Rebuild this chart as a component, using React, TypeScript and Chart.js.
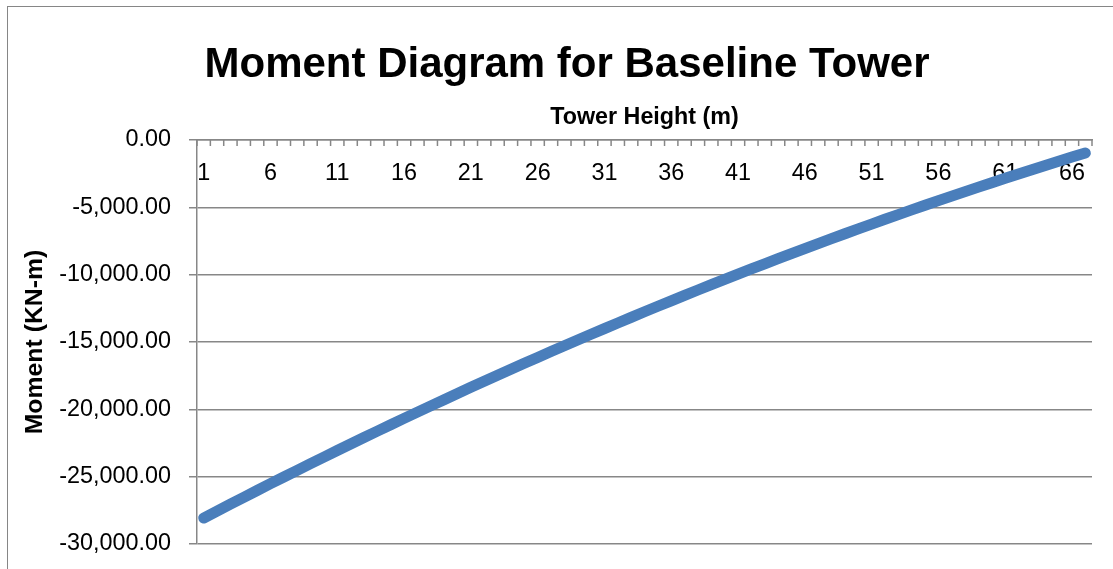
import React, { useEffect, useRef } from 'react';
import { Chart, registerables } from 'chart.js';

Chart.register(...registerables);

const CHART_TITLE = 'Moment Diagram for Baseline Tower';
const X_TITLE = 'Tower Height (m)';
const Y_TITLE = 'Moment (KN-m)';

const HEIGHTS = [
  '1', '2', '3', '4', '5', '6', '7', '8', '9', '10',
  '11', '12', '13', '14', '15', '16', '17', '18', '19', '20',
  '21', '22', '23', '24', '25', '26', '27', '28', '29', '30',
  '31', '32', '33', '34', '35', '36', '37', '38', '39', '40',
  '41', '42', '43', '44', '45', '46', '47', '48', '49', '50',
  '51', '52', '53', '54', '55', '56', '57', '58', '59', '60',
  '61', '62', '63', '64', '65', '66', '67',
];

const SHOWN_X_LABELS = ['1', '6', '11', '16', '21', '26', '31', '36', '41', '46', '51', '56', '61', '66'];

const Y_TICKS = [-30000, -25000, -20000, -15000, -10000, -5000, 0];

const MOMENT = [
  -28070, -27554, -27042, -26532, -26026, -25523, -25024, -24527, -24034, -23544,
  -23058, -22574, -22094, -21617, -21143, -20673, -20206, -19742, -19281, -18823,
  -18369, -17918, -17470, -17025, -16584, -16146, -15711, -15279, -14851, -14425,
  -14003, -13585, -13169, -12757, -12348, -11942, -11539, -11140, -10744, -10351,
  -9961, -9575, -9192, -8812, -8435, -8061, -7691, -7324, -6960, -6600,
  -6243, -5888, -5538, -5190, -4846, -4504, -4167, -3832, -3500, -3172,
  -2847, -2526, -2207, -1892, -1580, -1271, -966,
];

const GRAY = '#878787';
const FONT = "'Liberation Sans', Arial, sans-serif";

const innerTicks = {
  id: 'innerTicks',
  beforeDatasetsDraw(chart: any) {
    const xs = chart.scales.x;
    const top = chart.chartArea.top;
    const ctx = chart.ctx;
    ctx.save();
    ctx.strokeStyle = GRAY;
    ctx.lineWidth = 1.5;
    for (let i = 0; i <= HEIGHTS.length; i++) {
      const px = xs.getPixelForValue(i - 0.5);
      ctx.beginPath();
      ctx.moveTo(px, top);
      ctx.lineTo(px, top + 6);
      ctx.stroke();
    }
    ctx.restore();
  },
};

export default function App() {
  const ref = useRef<HTMLCanvasElement | null>(null);

  useEffect(() => {
    if (!ref.current) return;
    const chart = new Chart(ref.current, {
      type: 'line',
      data: {
        labels: HEIGHTS,
        datasets: [
          {
            data: MOMENT,
            borderColor: '#4a7ebb',
            backgroundColor: '#4a7ebb',
            borderWidth: 11,
            borderCapStyle: 'round',
            borderJoinStyle: 'round',
            pointRadius: 0,
            tension: 0,
            fill: false,
          },
        ],
      },
      options: {
        responsive: false,
        animation: false,
        devicePixelRatio: 1,
        layout: { padding: { left: 34, right: 35, top: 0, bottom: 63 } },
        plugins: {
          legend: { display: false },
          tooltip: { enabled: false },
          title: {
            display: true,
            text: CHART_TITLE,
            color: '#000',
            font: { family: FONT, size: 42, weight: 'bold' },
            padding: { top: 32.8, bottom: 0 },
          },
        },
        scales: {
          x: {
            type: 'category',
            position: 'top',
            offset: true,
            grid: { display: false, offset: true },
            border: { display: true, color: GRAY, width: 1.5 },
            ticks: {
              autoSkip: false,
              maxRotation: 0,
              minRotation: 0,
              mirror: true,
              padding: 19.5,
              color: '#000',
              font: { family: FONT, size: 23.4 },
              callback: function (this: any, v: any) {
                const l = this.getLabelForValue(v);
                return SHOWN_X_LABELS.includes(l) ? l : '';
              },
            },
            title: {
              display: true,
              text: X_TITLE,
              color: '#000',
              font: { family: FONT, size: 23.3, weight: 'bold' },
              padding: { top: 13.8, bottom: 0 },
            },
            afterFit(s: any) {
              s.height = 49.8;
            },
          },
          y: {
            type: 'linear',
            min: -30000,
            max: 0,
            afterBuildTicks(s: any) {
              s.ticks = Y_TICKS.map((v) => ({ value: v }));
            },
            grid: { color: GRAY, lineWidth: 1.5, tickLength: 8, drawTicks: true },
            border: { display: true, color: GRAY, width: 1.5 },
            ticks: {
              padding: 18,
              color: '#000',
              font: { family: FONT, size: 23.4 },
              callback: (v: any) =>
                Number(v).toLocaleString('en-US', { minimumFractionDigits: 2, maximumFractionDigits: 2 }),
            },
            title: {
              display: true,
              text: Y_TITLE,
              color: '#000',
              font: { family: FONT, size: 24.8, weight: 'bold' },
              padding: { top: -21.9, bottom: 0 },
            },
            afterFit(s: any) {
              s.width = 155;
            },
          },
        },
      },
      plugins: [innerTicks],
    } as any);
    return () => chart.destroy();
  }, []);

  return (
    <div style={{ position: 'fixed', left: 0, top: 0, width: 1113, height: 569, overflow: 'hidden', background: '#fff' }}>
      <div
        style={{
          position: 'absolute',
          left: 7,
          top: 6,
          width: 1119,
          height: 600,
          border: '1px solid #868686',
        }}
      >
        <canvas ref={ref} width={1119} height={600} style={{ display: 'block', width: 1119, height: 600 }} />
      </div>
    </div>
  );
}
